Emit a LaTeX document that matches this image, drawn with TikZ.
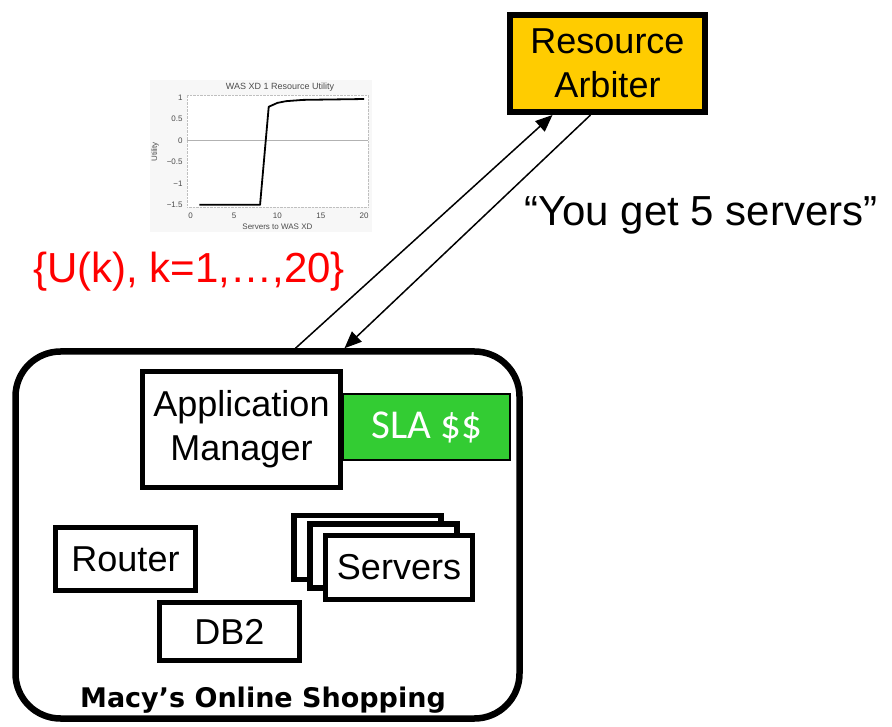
\documentclass[tikz,border=0pt]{standalone}
\usepackage{fontspec}
\setmainfont{Liberation Sans}
\newfontfamily\slafont{Carlito}
\newfontfamily\macyfont{DejaVu Sans}
\usetikzlibrary{arrows.meta}
\definecolor{arbgold}{HTML}{FFCC00}
\definecolor{slagreen}{HTML}{33CC33}
\tikzstyle{box}=[draw,line width=5.5pt,fill=white,inner sep=0pt,align=center,font=\fontsize{36}{44}\selectfont]
\tikzstyle{arbiter}=[box,line width=6pt,fill=arbgold,minimum width=195pt,minimum height=97pt]
\tikzstyle{srvbox}=[box,minimum width=147pt,minimum height=64pt]
\tikzstyle{msg}=[-{Triangle[length=17pt,width=14pt]},line width=1.5pt]
\tikzstyle{ticklabel}=[inner sep=1pt,text=black!70,font=\fontsize{8}{9}\selectfont]

\begin{document}
\begin{tikzpicture}[x=1pt,y=-1pt]
    \useasboundingbox (0,0) rectangle (892,727);
    \node[arbiter] (arb) at (607.5,63.5) {Resource\\Arbiter};
    \node[draw,line width=6.5pt,rounded corners=45pt,minimum width=504pt,minimum height=367pt] (macy) at (267.5,535) {};
    \node[draw,line width=1.5pt,fill=slagreen,minimum width=167pt,minimum height=66pt,text=white,font=\slafont\fontsize{41}{44}\selectfont] (sla) at (426.5,427) {SLA \$\$};
    \node[box,minimum width=198pt,minimum height=116pt] (appmgr) at (241.5,429.5) {Application\\Manager};
    \node[box,minimum width=140pt,minimum height=63pt] (router) at (125.5,559) {Router};
    \node[box,minimum width=140pt,minimum height=58pt] (db2) at (229.5,631.5) {DB2};
    \foreach \name/\px/\py/\txt in {srvc/367.5/547.5/{},srvb/383.5/556/{},srva/399/567.5/Servers}
        \node[srvbox] (\name) at (\px,\py) {\txt};
    \node[font=\macyfont\bfseries\fontsize{27}{30}\selectfont] (shop) at (263,700) {Macy’s Online Shopping};
    \node[text=red,font=\fontsize{42}{46}\selectfont] (utils) at (189,272) {\{U(k), k=1,…,20\}};
    \node[font=\fontsize{42}{46}\selectfont] (reply) at (701,215) {“You get 5 servers”};

    \draw[msg] ([xshift=28pt]macy.north) -- ([xshift=-55pt]arb.south);
    \draw[msg] ([xshift=-17pt]arb.south) -- ([xshift=77pt]macy.north);

    \fill[gray!6] (150,80) rectangle (372,232);
    \begin{scope}[shift={(190.7,140.3)},x=8.67pt,y=43pt]
        \fill[white] (-0.46,-1.55) rectangle (20.45,1.05);
        \draw[gray!50,densely dotted] (-0.46,-1.55) rectangle (20.45,1.05);
        \draw[gray!60] (-0.46,0) -- (20.45,0);
        \draw[line width=1.8pt,line join=round] (1,-1.5) -- (8,-1.5) -- (9,0.78) -- (10,0.87) -- (11,0.91) -- (13,0.94) -- (20,0.96);
        \foreach \u/\lab [count=\i] in {1/1,0.5/0.5,0/0,-0.5/−0.5,-1/−1,-1.5/−1.5}
            \node[ticklabel,anchor=east] (yt\i) at (-0.8,\u) {\lab};
        \foreach \v [count=\i] in {0,5,10,15,20}
            \node[ticklabel] (xt\i) at (\v,-1.75) {\v};
        \node[ticklabel,font=\fontsize{9}{10}\selectfont] (ctitle) at (10.3,1.24) {WAS XD 1 Resource Utility};
        \node[ticklabel] (cxlab) at (10,-2.0) {Servers to WAS XD};
        \node[ticklabel,rotate=90] (cylab) at (-4.1,-0.27) {Utility};
    \end{scope}
\end{tikzpicture}
\end{document}
